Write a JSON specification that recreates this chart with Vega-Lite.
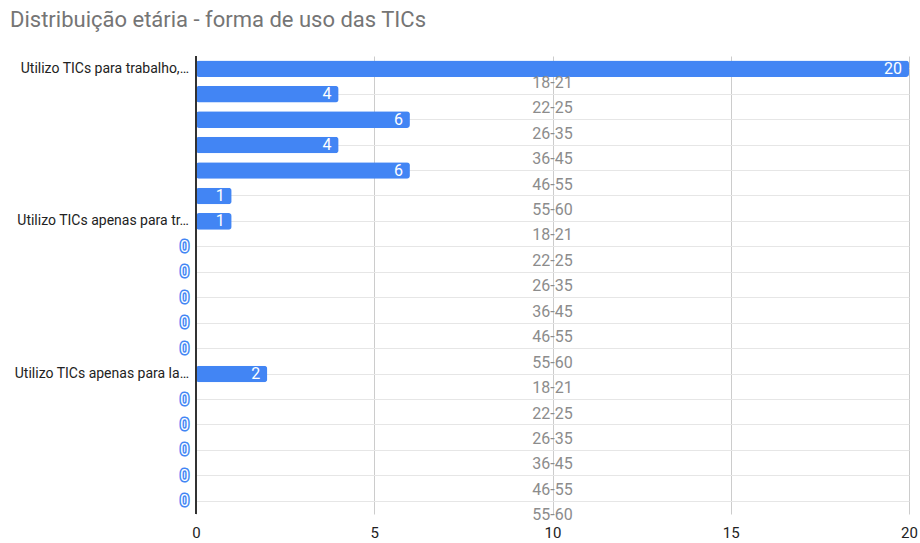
{
  "$schema": "https://vega.github.io/schema/vega-lite/v6.json",
  "autosize": "none",
  "width": 713,
  "height": 458,
  "padding": {"left": 196, "top": 56, "right": 11, "bottom": 29},
  "background": "white",
  "title": {
    "text": "Distribuição etária - forma de uso das TICs",
    "anchor": "start",
    "frame": "group",
    "dx": -186,
    "offset": 23,
    "font": "Roboto",
    "fontSize": 22,
    "fontWeight": "normal",
    "color": "#757575"
  },
  "data": {
    "values": [
      {"ordem": 1, "categoria": "Utilizo TICs para trabalho,…", "idade": "18-21", "valor": 20},
      {"ordem": 2, "categoria": "Utilizo TICs para trabalho,…", "idade": "22-25", "valor": 4},
      {"ordem": 3, "categoria": "Utilizo TICs para trabalho,…", "idade": "26-35", "valor": 6},
      {"ordem": 4, "categoria": "Utilizo TICs para trabalho,…", "idade": "36-45", "valor": 4},
      {"ordem": 5, "categoria": "Utilizo TICs para trabalho,…", "idade": "46-55", "valor": 6},
      {"ordem": 6, "categoria": "Utilizo TICs para trabalho,…", "idade": "55-60", "valor": 1},
      {"ordem": 7, "categoria": "Utilizo TICs apenas para tr…", "idade": "18-21", "valor": 1},
      {"ordem": 8, "categoria": "Utilizo TICs apenas para tr…", "idade": "22-25", "valor": 0},
      {"ordem": 9, "categoria": "Utilizo TICs apenas para tr…", "idade": "26-35", "valor": 0},
      {"ordem": 10, "categoria": "Utilizo TICs apenas para tr…", "idade": "36-45", "valor": 0},
      {"ordem": 11, "categoria": "Utilizo TICs apenas para tr…", "idade": "46-55", "valor": 0},
      {"ordem": 12, "categoria": "Utilizo TICs apenas para tr…", "idade": "55-60", "valor": 0},
      {"ordem": 13, "categoria": "Utilizo TICs apenas para la…", "idade": "18-21", "valor": 2},
      {"ordem": 14, "categoria": "Utilizo TICs apenas para la…", "idade": "22-25", "valor": 0},
      {"ordem": 15, "categoria": "Utilizo TICs apenas para la…", "idade": "26-35", "valor": 0},
      {"ordem": 16, "categoria": "Utilizo TICs apenas para la…", "idade": "36-45", "valor": 0},
      {"ordem": 17, "categoria": "Utilizo TICs apenas para la…", "idade": "46-55", "valor": 0},
      {"ordem": 18, "categoria": "Utilizo TICs apenas para la…", "idade": "55-60", "valor": 0}
    ]
  },
  "encoding": {
    "y": {
      "field": "ordem",
      "type": "ordinal",
      "scale": {"paddingInner": 0.35, "paddingOuter": 0.175},
      "axis": {
        "title": null,
        "labels": false,
        "ticks": false,
        "domain": false,
        "grid": true,
        "bandPosition": 0.5,
        "gridColor": "#e6e6e6",
        "gridWidth": 1
      }
    }
  },
  "layer": [
    {
      "mark": {"type": "bar", "color": "#4285F4", "cornerRadius": 3},
      "encoding": {
        "x": {
          "field": "valor",
          "type": "quantitative",
          "scale": {"domain": [0, 20], "nice": false},
          "axis": {
            "title": null,
            "values": [0, 5, 10, 15, 20],
            "ticks": false,
            "domain": false,
            "grid": true,
            "gridColor": "#cccccc",
            "labelFont": "Roboto",
            "labelFontSize": 15,
            "labelColor": "#222222",
            "labelPadding": 11,
            "labelFlush": false
          }
        }
      }
    },
    {
      "mark": {"type": "rule", "color": "#333333", "strokeWidth": 1.5},
      "encoding": {"x": {"datum": 0, "type": "quantitative"}, "y": null}
    },
    {
      "transform": [{"filter": "datum.valor > 0"}],
      "mark": {"type": "text", "align": "right", "baseline": "middle", "dx": -7, "font": "Roboto", "fontSize": 16, "color": "white"},
      "encoding": {
        "x": {"field": "valor", "type": "quantitative"},
        "text": {"field": "valor", "type": "quantitative"}
      }
    },
    {
      "transform": [{"filter": "datum.valor == 0"}],
      "mark": {"type": "text", "align": "right", "baseline": "middle", "dx": -7, "font": "Roboto", "fontSize": 16, "fill": "#4285F4", "stroke": "#4285F4", "strokeWidth": 3, "strokeJoin": "round"},
      "encoding": {
        "x": {"field": "valor", "type": "quantitative"},
        "text": {"field": "valor", "type": "quantitative"}
      }
    },
    {
      "transform": [{"filter": "datum.valor == 0"}],
      "mark": {"type": "text", "align": "right", "baseline": "middle", "dx": -7, "font": "Roboto", "fontSize": 16, "fill": "white"},
      "encoding": {
        "x": {"field": "valor", "type": "quantitative"},
        "text": {"field": "valor", "type": "quantitative"}
      }
    },
    {
      "mark": {"type": "text", "align": "center", "baseline": "middle", "dy": 14, "font": "Roboto", "fontSize": 16, "color": "#8c8c8c"},
      "encoding": {
        "x": {"datum": 10, "type": "quantitative"},
        "text": {"field": "idade", "type": "nominal"}
      }
    },
    {
      "transform": [{"filter": "datum.idade == '18-21'"}],
      "mark": {"type": "text", "align": "right", "baseline": "middle", "dx": -7, "font": "Roboto", "fontSize": 14, "color": "#222222"},
      "encoding": {
        "x": {"datum": 0, "type": "quantitative"},
        "text": {"field": "categoria", "type": "nominal"}
      }
    }
  ],
  "config": {"view": {"stroke": null}}
}
